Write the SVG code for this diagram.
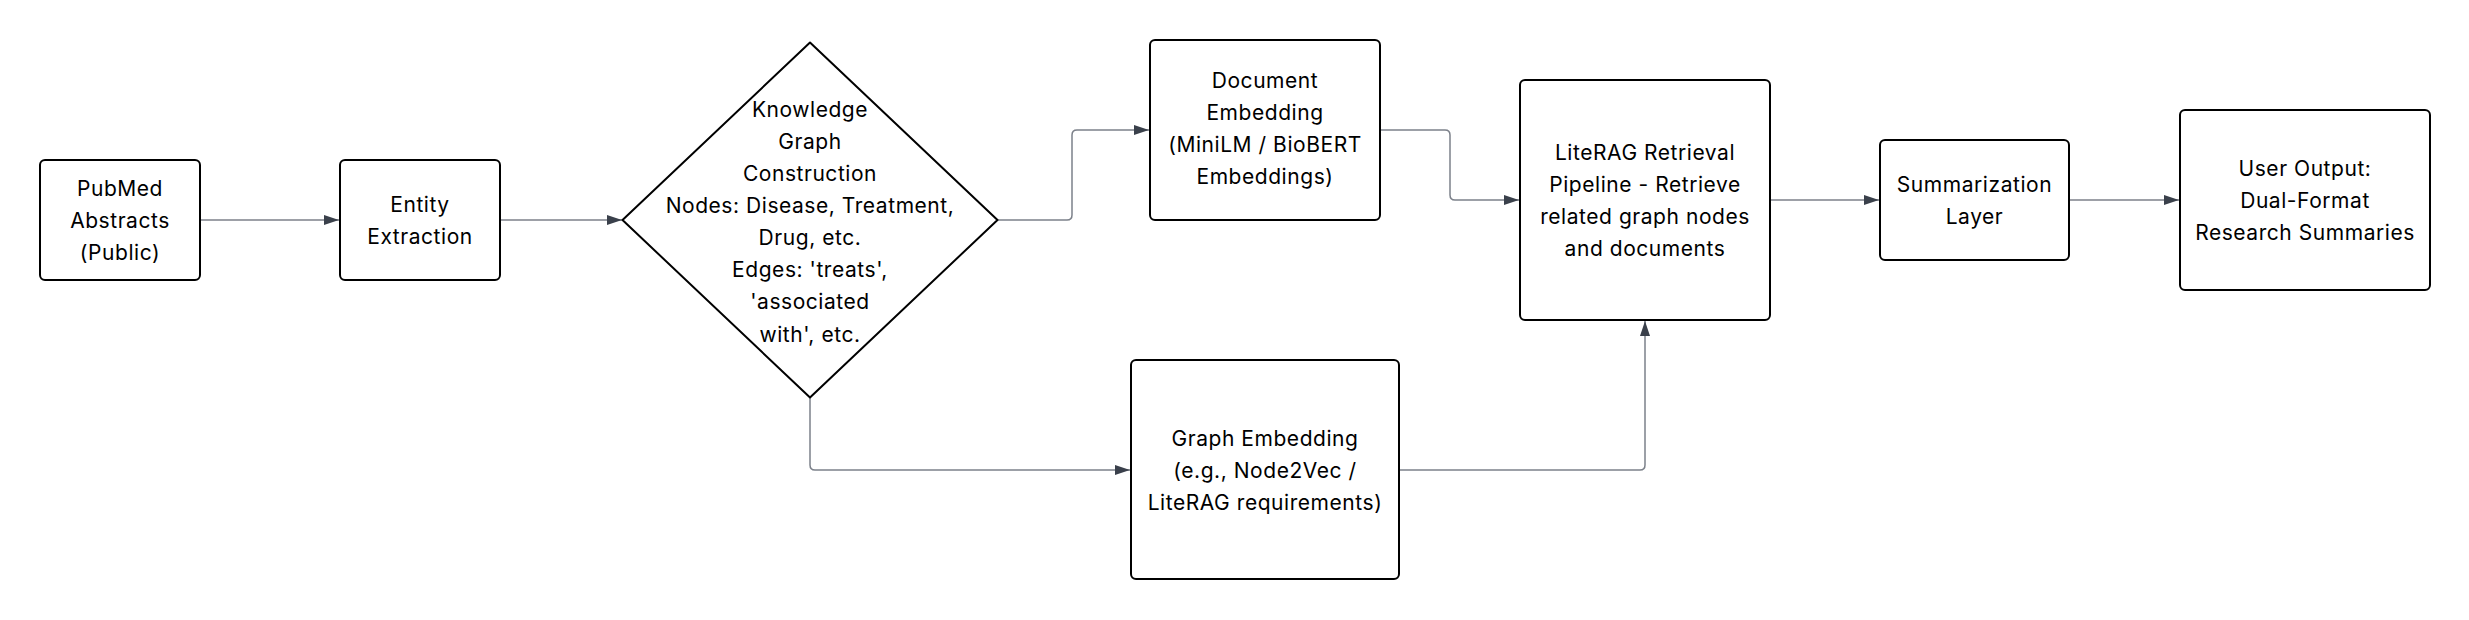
<svg xmlns="http://www.w3.org/2000/svg" width="2469" height="620" viewBox="0 0 2469 620">
<defs>
<style>
.box{fill:#fff;stroke:#000;stroke-width:2;}
.lbl{font-family:Inter,"Liberation Sans",sans-serif;font-size:21px;letter-spacing:0.55px;fill:#000;text-anchor:middle;}
.edge{fill:none;stroke:#7c818a;stroke-width:1.5;}
</style>
<marker id="arr" viewBox="0 0 15 10" refX="15" refY="5" markerWidth="15" markerHeight="10" markerUnits="userSpaceOnUse" orient="auto">
<path d="M0,0 L15,5 L0,10 Z" fill="#3a404b"/>
</marker>
</defs>
<rect width="2469" height="620" fill="#fff"/>
<g id="connectors">
<path class="edge" marker-end="url(#arr)" d="M200,220 H339"/>
<path class="edge" marker-end="url(#arr)" d="M500,220 H622"/>
<path class="edge" marker-end="url(#arr)" d="M997.5,220 H1067 Q1072,220 1072,215 V135 Q1072,130 1077,130 H1149"/>
<path class="edge" marker-end="url(#arr)" d="M1380,130 H1445 Q1450,130 1450,135 V195 Q1450,200 1455,200 H1519"/>
<path class="edge" marker-end="url(#arr)" d="M810,397.5 V465 Q810,470 815,470 H1130"/>
<path class="edge" marker-end="url(#arr)" d="M1400,470 H1640 Q1645,470 1645,465 V321"/>
<path class="edge" marker-end="url(#arr)" d="M1770,200 H1879"/>
<path class="edge" marker-end="url(#arr)" d="M2069,200 H2179"/>
</g>
<g id="pubmed">
<rect class="box" x="40" y="160" width="160" height="120" rx="5"/>
<text class="lbl" x="120" y="196">PubMed</text>
<text class="lbl" x="120" y="228">Abstracts</text>
<text class="lbl" x="120" y="260">(Public)</text>
</g>
<g id="entity">
<rect class="box" x="340" y="160" width="160" height="120" rx="5"/>
<text class="lbl" x="420" y="212">Entity</text>
<text class="lbl" x="420" y="244">Extraction</text>
</g>
<g id="kg">
<path class="box" stroke-linejoin="round" d="M810,42.5 L997.5,220 L810,397.5 L622.5,220 Z"/>
<text class="lbl" x="810" y="116.5">Knowledge</text>
<text class="lbl" x="810" y="148.7">Graph</text>
<text class="lbl" x="810" y="180.8">Construction</text>
<text class="lbl" x="810" y="213">Nodes: Disease, Treatment,</text>
<text class="lbl" x="810" y="245.1">Drug, etc.</text>
<text class="lbl" x="810" y="277.3">Edges: 'treats',</text>
<text class="lbl" x="810" y="309.4">'associated</text>
<text class="lbl" x="810" y="341.6">with', etc.</text>
</g>
<g id="docemb">
<rect class="box" x="1150" y="40" width="230" height="180" rx="5"/>
<text class="lbl" x="1265" y="88">Document</text>
<text class="lbl" x="1265" y="120">Embedding</text>
<text class="lbl" x="1265" y="152">(MiniLM / BioBERT</text>
<text class="lbl" x="1265" y="184">Embeddings)</text>
</g>
<g id="graphemb">
<rect class="box" x="1131" y="360" width="268" height="219" rx="5"/>
<text class="lbl" x="1265" y="446">Graph Embedding</text>
<text class="lbl" x="1265" y="478">(e.g., Node2Vec /</text>
<text class="lbl" x="1265" y="510">LiteRAG requirements)</text>
</g>
<g id="literag">
<rect class="box" x="1520" y="80" width="250" height="240" rx="5"/>
<text class="lbl" x="1645" y="160">LiteRAG Retrieval</text>
<text class="lbl" x="1645" y="192">Pipeline - Retrieve</text>
<text class="lbl" x="1645" y="224">related graph nodes</text>
<text class="lbl" x="1645" y="256">and documents</text>
</g>
<g id="summ">
<rect class="box" x="1880" y="140" width="189" height="120" rx="5"/>
<text class="lbl" x="1974.5" y="191.5">Summarization</text>
<text class="lbl" x="1974.5" y="223.5">Layer</text>
</g>
<g id="output">
<rect class="box" x="2180" y="110" width="250" height="180" rx="5"/>
<text class="lbl" x="2305" y="175.5">User Output:</text>
<text class="lbl" x="2305" y="207.5">Dual-Format</text>
<text class="lbl" x="2305" y="239.5">Research Summaries</text>
</g>
</svg>
